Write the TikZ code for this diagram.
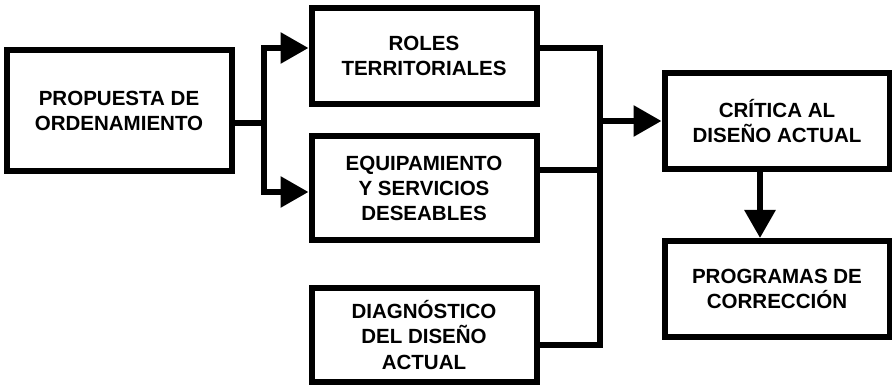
\documentclass[tikz,border=0pt]{standalone}
\usepackage{fontspec}
\setmainfont{Liberation Sans}
\usetikzlibrary{arrows.meta,positioning}
\tikzset{
	caja/.style={
		rectangle,
		draw=black,
		line width=1.5mm,
		minimum width=56.25mm,
		minimum height=24mm,
		inner sep=0pt,
		align=center,
		font=\fontsize{14.6}{17.8}\selectfont\bfseries
	},
	flujo/.style={
		line width=1.5mm
	}
}

\begin{document}
\begin{tikzpicture}[node distance=1cm,>={Triangle[length=7mm,width=7.5mm]}]
		\useasboundingbox (0,0) rectangle (223mm,-96.5mm);
		\node [caja,minimum height=30.25mm] (prop) at (29.75mm,-27.625mm) {PROPUESTA DE\\ORDENAMIENTO};
		\node [caja,yshift=13.625mm] (roles) [right=18.5mm of prop] {ROLES\\TERRITORIALES};
		\node [caja,minimum height=26mm] (equip) [below=6.5mm of roles] {EQUIPAMIENTO\\Y SERVICIOS\\DESEABLES};
		\node [caja,minimum height=23.5mm] (diag) [below=10.5mm of equip] {DIAGNÓSTICO\\DEL DISEÑO\\ACTUAL};
		\node [caja,yshift=-16.25mm] (critica) [right=30.5mm of roles] {CRÍTICA AL\\DISEÑO ACTUAL};
		\node [caja] (prog) [below=16.5mm of critica] {PROGRAMAS DE\\CORRECCIÓN};
		% reparto hacia la izquierda
		\coordinate (j1) at ([shift={(7.25mm,-3.1mm)}]prop.east);
		\draw [flujo] ([yshift=-3.1mm]prop.east) -- (j1);
		\draw [flujo,->] (j1) |- ([yshift=2mm]roles.west);
		\draw [flujo,->] (j1) |- ([yshift=-1mm]equip.west);
		% colector hacia la derecha
		\path ([xshift=15mm]roles.east) coordinate (bus);
		\coordinate (j2) at (bus |- critica.west);
		\draw [flujo] ([yshift=2mm]roles.east) -| (j2);
		\draw [flujo] ([yshift=4.5mm]equip.east) -| (j2);
		\draw [flujo] ([yshift=-2.5mm]diag.east) -| (j2);
		\draw [flujo,->] (j2) -- (critica.west);
		\draw [flujo,->] ([xshift=-4.25mm]critica.south) -- ([xshift=-4.25mm]prog.north);
\end{tikzpicture}
\end{document}
